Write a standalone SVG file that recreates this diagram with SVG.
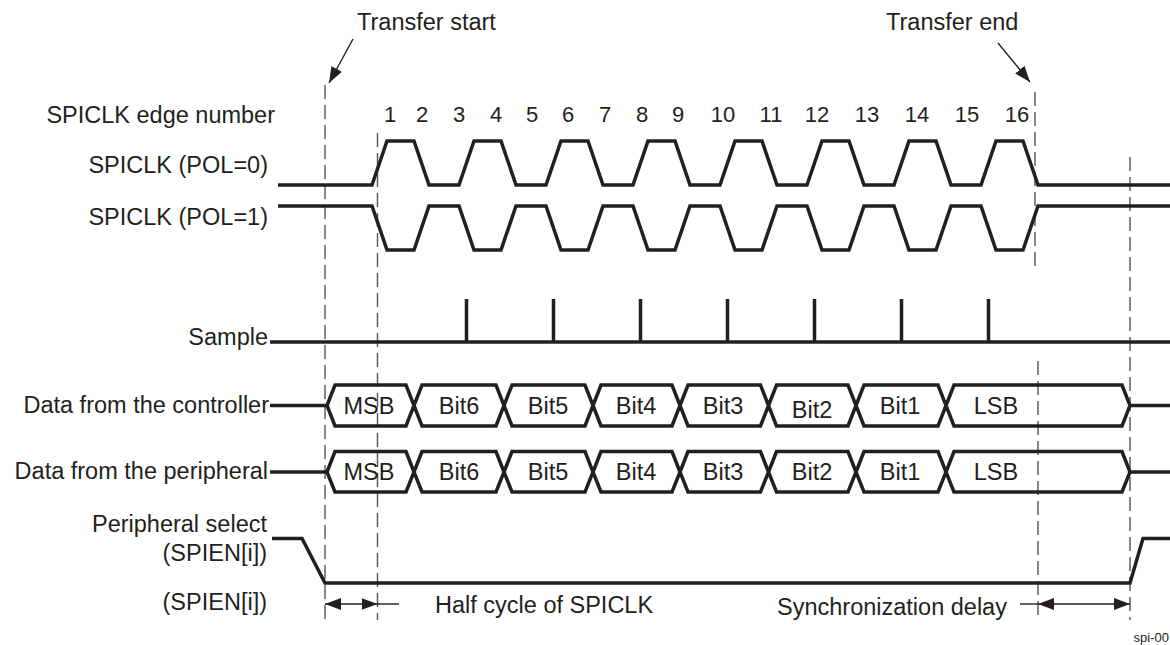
<svg xmlns="http://www.w3.org/2000/svg" width="1170" height="645" viewBox="0 0 1170 645">
<style>
text{font-family:"Liberation Sans",Arial,sans-serif;fill:#231f20}
.lbl{font-size:23.5px}
.num{font-size:22px;text-anchor:middle}
.bit{font-size:23.5px;text-anchor:middle}
.wave{fill:none;stroke:#231f20;stroke-width:3.5;stroke-linejoin:miter}
.dash{fill:none;stroke:#555;stroke-width:1.4;stroke-dasharray:14 6}
.thin{fill:none;stroke:#231f20;stroke-width:1.4}
</style>
<defs>
<marker id="ah" viewBox="0 0 16 12" refX="16" refY="6" markerWidth="16" markerHeight="12" markerUnits="userSpaceOnUse" orient="auto-start-reverse"><path d="M0,0 L16,6 L0,12 z" fill="#231f20"/></marker>
</defs>

<g id="guides">
<line class="dash" x1="325" y1="85" x2="325" y2="620"/>
<line class="dash" x1="377.5" y1="133" x2="377.5" y2="620"/>
<line class="dash" x1="1035" y1="92" x2="1035" y2="270"/>
<line class="dash" x1="1038" y1="361" x2="1038" y2="620"/>
<line class="dash" x1="1130" y1="157" x2="1130" y2="620"/>
</g>

<g id="labels">
<text class="lbl" x="357" y="30">Transfer start</text>
<text class="lbl" x="886" y="30">Transfer end</text>
<text class="lbl" x="275" y="123" text-anchor="end">SPICLK edge number</text>
<text class="lbl" x="268" y="173" text-anchor="end">SPICLK (POL=0)</text>
<text class="lbl" x="268" y="225" text-anchor="end">SPICLK (POL=1)</text>
<text class="lbl" x="268" y="345" text-anchor="end">Sample</text>
<text class="lbl" x="269" y="413" text-anchor="end">Data from the controller</text>
<text class="lbl" x="268" y="479" text-anchor="end">Data from the peripheral</text>
<text class="lbl" x="267" y="532" text-anchor="end">Peripheral select</text>
<text class="lbl" x="267" y="561" text-anchor="end">(SPIEN[i])</text>
<text class="lbl" x="267" y="610" text-anchor="end">(SPIEN[i])</text>
<text class="lbl" x="435" y="613">Half cycle of SPICLK</text>
<text class="lbl" x="777" y="615">Synchronization delay</text>
<text x="1169" y="642" text-anchor="end" style="font-size:13px">spi-00</text>
</g>

<g id="edge-numbers">
<text class="num" x="390" y="122">1</text>
<text class="num" x="422" y="122">2</text>
<text class="num" x="459" y="122">3</text>
<text class="num" x="496" y="122">4</text>
<text class="num" x="532" y="122">5</text>
<text class="num" x="568" y="122">6</text>
<text class="num" x="605" y="122">7</text>
<text class="num" x="642" y="122">8</text>
<text class="num" x="678" y="122">9</text>
<text class="num" x="723" y="122">10</text>
<text class="num" x="771" y="122">11</text>
<text class="num" x="817" y="122">12</text>
<text class="num" x="867" y="122">13</text>
<text class="num" x="917" y="122">14</text>
<text class="num" x="967" y="122">15</text>
<text class="num" x="1017" y="122">16</text>
</g>

<g id="spiclk-pol0">
<path class="wave" d="M278,185 L372,185 L387,141 L414,141 L429,185 L459,185 L474,141 L501,141 L516,185 L546,185 L561,141 L588,141 L603,185 L633,185 L648,141 L675,141 L690,185 L720,185 L735,141 L762,141 L777,185 L807,185 L822,141 L849,141 L864,185 L894,185 L909,141 L936,141 L951,185 L981,185 L996,141 L1023,141 L1038,185 L1170,185"/>
</g>

<g id="spiclk-pol1">
<path class="wave" d="M278,206 L372,206 L387,250 L414,250 L429,206 L459,206 L474,250 L501,250 L516,206 L546,206 L561,250 L588,250 L603,206 L633,206 L648,250 L675,250 L690,206 L720,206 L735,250 L762,250 L777,206 L807,206 L822,250 L849,250 L864,206 L894,206 L909,250 L936,250 L951,206 L981,206 L996,250 L1023,250 L1038,206 L1170,206"/>
</g>

<g id="sample">
<path class="wave" d="M270,342 L1170,342 M466.5,299 V342 M553.5,299 V342 M640.5,299 V342 M727.5,299 V342 M814.5,299 V342 M901.5,299 V342 M988.5,299 V342"/>
</g>

<g id="data-controller">
<path class="wave" d="M270,405.5 H327 M1130,405.5 H1170"/>
<path class="wave" d="M327,405.5 L335,385 L406,385 L414,405.5 L406,426 L335,426 Z M414,405.5 L422,385 L496,385 L504,405.5 L496,426 L422,426 Z M504,405.5 L512,385 L585,385 L593,405.5 L585,426 L512,426 Z M593,405.5 L601,385 L672,385 L680,405.5 L672,426 L601,426 Z M680,405.5 L688,385 L760.5,385 L768.5,405.5 L760.5,426 L688,426 Z M768.5,405.5 L776.5,385 L848,385 L856,405.5 L848,426 L776.5,426 Z M856,405.5 L864,385 L938,385 L946,405.5 L938,426 L864,426 Z M946,405.5 L954,385 L1122,385 L1130,405.5 L1122,426 L954,426 Z"/>
<text class="bit" x="369" y="414">MSB</text>
<text class="bit" x="459" y="414">Bit6</text>
<text class="bit" x="548" y="414">Bit5</text>
<text class="bit" x="636" y="414">Bit4</text>
<text class="bit" x="723" y="414">Bit3</text>
<text class="bit" x="812" y="418">Bit2</text>
<text class="bit" x="900" y="414">Bit1</text>
<text class="bit" x="996" y="414">LSB</text>
</g>

<g id="data-peripheral">
<path class="wave" d="M270,472 H327 M1130,472 H1170"/>
<path class="wave" d="M327,472 L335,451.5 L406,451.5 L414,472 L406,492 L335,492 Z M414,472 L422,451.5 L496,451.5 L504,472 L496,492 L422,492 Z M504,472 L512,451.5 L585,451.5 L593,472 L585,492 L512,492 Z M593,472 L601,451.5 L672,451.5 L680,472 L672,492 L601,492 Z M680,472 L688,451.5 L760.5,451.5 L768.5,472 L760.5,492 L688,492 Z M768.5,472 L776.5,451.5 L848,451.5 L856,472 L848,492 L776.5,492 Z M856,472 L864,451.5 L938,451.5 L946,472 L938,492 L864,492 Z M946,472 L954,451.5 L1122,451.5 L1130,472 L1122,492 L954,492 Z"/>
<text class="bit" x="369" y="480">MSB</text>
<text class="bit" x="459" y="480">Bit6</text>
<text class="bit" x="548" y="480">Bit5</text>
<text class="bit" x="636" y="480">Bit4</text>
<text class="bit" x="723" y="480">Bit3</text>
<text class="bit" x="812" y="480">Bit2</text>
<text class="bit" x="900" y="480">Bit1</text>
<text class="bit" x="996" y="480">LSB</text>
</g>

<g id="peripheral-select">
<path class="wave" d="M272,538.5 L302,538.5 L325,583 L1130,583 L1143,538.5 L1170,538.5"/>
</g>

<g id="connectors">
<line class="thin" x1="353" y1="39" x2="329" y2="83" marker-end="url(#ah)"/>
<line class="thin" x1="998" y1="43" x2="1030" y2="82" marker-end="url(#ah)"/>
<line class="thin" x1="325" y1="604" x2="377.5" y2="604" marker-start="url(#ah)" marker-end="url(#ah)"/>
<line class="thin" x1="377.5" y1="604" x2="399" y2="604"/>
<line class="thin" x1="1020" y1="604" x2="1038" y2="604"/>
<line class="thin" x1="1038" y1="604" x2="1130" y2="604" marker-start="url(#ah)" marker-end="url(#ah)"/>
</g>
</svg>
